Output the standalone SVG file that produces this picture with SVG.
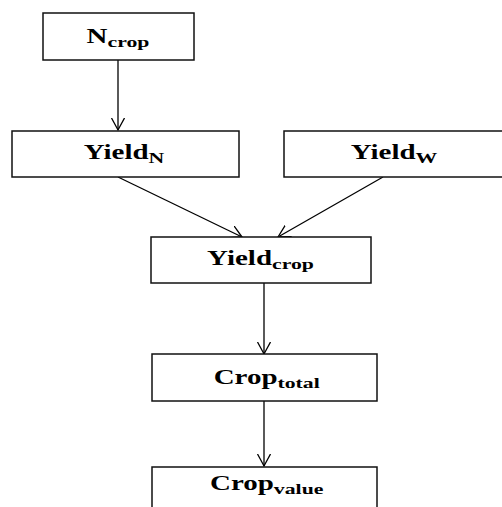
<svg xmlns="http://www.w3.org/2000/svg" width="502" height="507" viewBox="0 0 502 507">
<style>
.box{fill:#fff;stroke:#111;stroke-width:1.5}
.lbl{font-family:"Liberation Serif","Times New Roman",serif;font-weight:bold;font-size:20px;fill:#000}
.sub{font-size:15px}
.con{stroke:#000;stroke-width:1.3;fill:none}
</style>
<defs>
<marker id="ah" markerUnits="userSpaceOnUse" markerWidth="16" markerHeight="16" refX="12" refY="7" orient="auto">
<path d="M0,0.5 L12,7 L0,13.5" fill="none" stroke="#000" stroke-width="1.3"/>
</marker>
</defs>
<g id="connectors">
<line class="con" x1="118" y1="60" x2="118" y2="130" marker-end="url(#ah)"/>
<line class="con" x1="118" y1="177" x2="242" y2="237" marker-end="url(#ah)"/>
<line class="con" x1="383" y1="177" x2="278" y2="237" marker-end="url(#ah)"/>
<line class="con" x1="264" y1="283" x2="264" y2="354" marker-end="url(#ah)"/>
<line class="con" x1="264" y1="401" x2="264" y2="466" marker-end="url(#ah)"/>
</g>
<g id="n_crop">
<rect class="box" x="43" y="13" width="151" height="47"/>
<text class="lbl" text-anchor="middle" transform="translate(118,42.7) scale(1.45,1)">N<tspan class="sub" dy="4">crop</tspan></text>
</g>
<g id="yield_n">
<rect class="box" x="12" y="131" width="227" height="46"/>
<text class="lbl" text-anchor="middle" transform="translate(124,159.3) scale(1.45,1)">Yield<tspan class="sub" dy="4">N</tspan></text>
</g>
<g id="yield_w">
<rect class="box" x="284" y="131" width="240" height="46"/>
<text class="lbl" text-anchor="middle" transform="translate(394,159.3) scale(1.45,1)">Yield<tspan class="sub" dy="4">W</tspan></text>
</g>
<g id="yield_crop">
<rect class="box" x="151" y="237" width="220" height="46"/>
<text class="lbl" text-anchor="middle" transform="translate(260.5,265) scale(1.45,1)">Yield<tspan class="sub" dy="4">crop</tspan></text>
</g>
<g id="crop_total">
<rect class="box" x="152" y="354" width="225" height="47"/>
<text class="lbl" text-anchor="middle" transform="translate(266.7,384.3) scale(1.45,1)">Crop<tspan class="sub" dy="4">total</tspan></text>
</g>
<g id="crop_value">
<rect class="box" x="152" y="467" width="225" height="60"/>
<text class="lbl" text-anchor="middle" transform="translate(266.7,490) scale(1.45,1)">Crop<tspan class="sub" dy="4">value</tspan></text>
</g>
</svg>
